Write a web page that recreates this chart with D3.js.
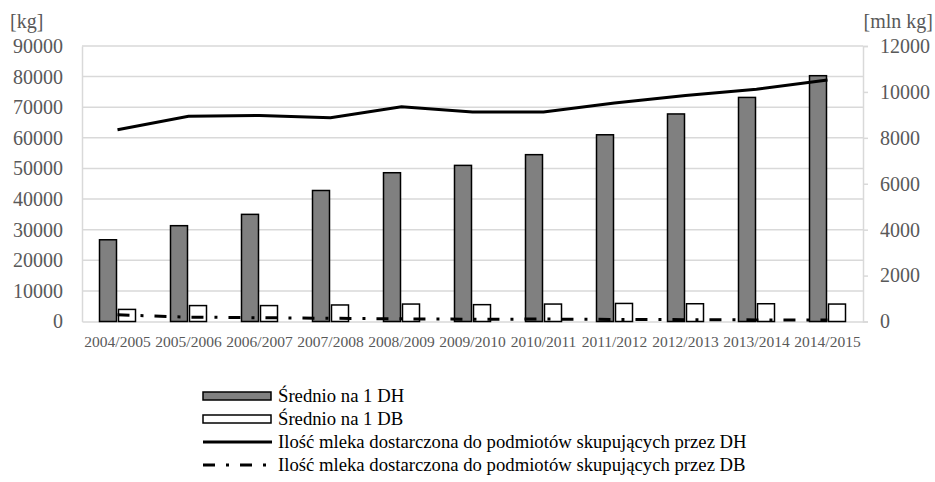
<!DOCTYPE html>
<html>
<head>
<meta charset="utf-8">
<script src="https://cdn.jsdelivr.net/npm/d3@7"></script>
<style>
  body { margin: 0; background: #fff; }
  svg text { font-family: "Liberation Serif", "Tinos", "DejaVu Serif", "Noto Serif", serif; }
</style>
</head>
<body>
<div id="chart"></div>
<script>
// data
var seasons = ["2004/2005","2005/2006","2006/2007","2007/2008","2008/2009","2009/2010",
               "2010/2011","2011/2012","2012/2013","2013/2014","2014/2015"];
// [kg] left axis
var avgDH = [26700, 31300, 35000, 42800, 48600, 51000, 54500, 61000, 67800, 73200, 80300];
var avgDB = [3950, 5200, 5200, 5400, 5700, 5500, 5700, 5900, 5800, 5800, 5700];
// [mln kg] right axis
var milkDH = [8350, 8940, 8970, 8880, 9350, 9120, 9130, 9520, 9840, 10120, 10520];
var milkDB = [290, 190, 165, 140, 115, 100, 105, 90, 80, 70, 60];

var leftTicks = [0,10000,20000,30000,40000,50000,60000,70000,80000,90000];
var rightTicks = [0,2000,4000,6000,8000,10000,12000];
var legendLabels = ["Średnio na 1 DH", "Średnio na 1 DB",
  "Ilość mleka dostarczona do podmiotów skupujących przez DH",
  "Ilość mleka dostarczona do podmiotów skupujących przez DB"];

var width = 935, height = 482;
var plot = {left: 82, right: 863, top: 46, bottom: 321.5};
var gridColor = "#d9d9d9", labelColor = "#595959";
var serif = '"Liberation Serif", "Tinos", "DejaVu Serif", serif';

var svg = d3.select("#chart").append("svg")
  .attr("width", width)
  .attr("height", height);

var x = d3.scaleBand().domain(seasons).range([plot.left, plot.right]);
var sub = d3.scaleBand().domain(["dh","db"]).range([-18, 18]).paddingInner(2/19);
var yL = d3.scaleLinear().domain([0, 90000]).range([plot.bottom, plot.top]);
var yR = d3.scaleLinear().domain([0, 12000]).range([plot.bottom, plot.top]);

// gridlines
svg.append("g").selectAll("line")
  .data(leftTicks.slice(1))
  .enter().append("line")
  .attr("x1", plot.left).attr("x2", plot.right)
  .attr("y1", d => yL(d)).attr("y2", d => yL(d))
  .style("stroke", gridColor).style("stroke-width", 1.5);

// left axis
var axL = svg.append("g")
  .attr("transform", "translate(" + plot.left + ",0)")
  .call(d3.axisLeft(yL).tickValues(leftTicks).tickSize(0).tickPadding(19).tickFormat(d3.format("d")));
axL.attr("font-family", null);
axL.select(".domain").style("stroke", gridColor).style("stroke-width", 1.5);
axL.selectAll("text").style("font-size", "20px").style("fill", labelColor)
  .style("font-family", serif);

// right axis
var axR = svg.append("g")
  .attr("transform", "translate(" + plot.right + ",0)")
  .call(d3.axisRight(yR).tickValues(rightTicks).tickSize(5).tickPadding(12).tickFormat(d3.format("d")));
axR.attr("font-family", null);
axR.select(".domain").style("stroke", gridColor).style("stroke-width", 1.5);
axR.selectAll("line").style("stroke", gridColor).style("stroke-width", 1.5);
axR.selectAll("text").style("font-size", "20px").style("fill", labelColor)
  .style("font-family", serif);

// bottom axis
var axB = svg.append("g")
  .attr("transform", "translate(0," + plot.bottom + ")")
  .call(d3.axisBottom(x).tickSize(0).tickPadding(14));
axB.attr("font-family", null);
axB.select(".domain").style("stroke", gridColor).style("stroke-width", 1.5);
axB.selectAll("text").style("font-size", "15.5px").style("fill", labelColor)
  .style("font-family", serif);

// unit labels
svg.append("text").attr("x", 10).attr("y", 28).text("[kg]")
  .style("font-size", "20px").style("fill", labelColor).style("font-family", serif);
svg.append("text").attr("x", 933).attr("y", 28).text("[mln kg]")
  .style("text-anchor", "end").style("font-size", "20px").style("fill", labelColor)
  .style("font-family", serif);

// bars
var center = d => x(d) + x.bandwidth() / 2;
svg.append("g").selectAll("rect")
  .data(seasons)
  .enter().append("rect")
  .attr("x", d => center(d) + sub("dh"))
  .attr("y", (d, i) => yL(avgDH[i]))
  .attr("width", sub.bandwidth())
  .attr("height", (d, i) => yL(0) - yL(avgDH[i]))
  .style("fill", "#808080").style("stroke", "#000").style("stroke-width", 1.5);

svg.append("g").selectAll("rect")
  .data(seasons)
  .enter().append("rect")
  .attr("x", d => center(d) + sub("db"))
  .attr("y", (d, i) => yL(avgDB[i]))
  .attr("width", sub.bandwidth())
  .attr("height", (d, i) => yL(0) - yL(avgDB[i]))
  .style("fill", "#fff").style("stroke", "#000").style("stroke-width", 1.5);

// lines
var line = d3.line()
  .x((d, i) => center(seasons[i]))
  .y(d => yR(d));

svg.append("path").datum(milkDH)
  .attr("d", line)
  .style("fill", "none").style("stroke", "#000").style("stroke-width", 3);

svg.append("path").datum(milkDB)
  .attr("d", line)
  .style("fill", "none").style("stroke", "#000").style("stroke-width", 3)
  .style("stroke-dasharray", "12,11,3,11");

// legend
var legend = svg.append("g").attr("transform", "translate(203,0)");
var rowY = [396, 419, 442, 465];

legend.append("rect").attr("x", 0).attr("y", rowY[0] - 4).attr("width", 68).attr("height", 8)
  .style("fill", "#808080").style("stroke", "#000").style("stroke-width", 1.5);
legend.append("rect").attr("x", 0).attr("y", rowY[1] - 4).attr("width", 68).attr("height", 8)
  .style("fill", "#fff").style("stroke", "#000").style("stroke-width", 1.5);
legend.append("line").attr("x1", 0).attr("x2", 69).attr("y1", rowY[2]).attr("y2", rowY[2])
  .style("stroke", "#000").style("stroke-width", 3);
legend.append("line").attr("x1", 0).attr("x2", 69).attr("y1", rowY[3]).attr("y2", rowY[3])
  .style("stroke", "#000").style("stroke-width", 3).style("stroke-dasharray", "12,11,3,11");

legend.selectAll(".lbl")
  .data(legendLabels)
  .enter().append("text")
  .attr("class", "lbl")
  .attr("x", 75)
  .attr("y", (d, i) => rowY[i] + 6)
  .text(d => d)
  .style("font-size", "18.7px").style("fill", "#000").style("font-family", serif);
</script>
</body>
</html>
